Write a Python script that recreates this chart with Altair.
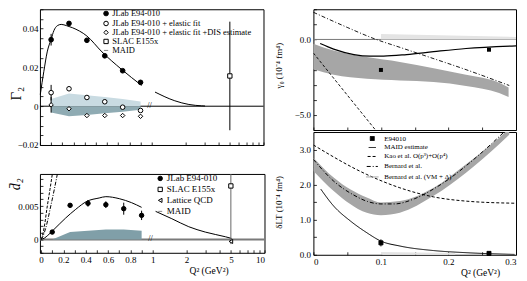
import json
import math
import altair as alt
import pandas as pd

FONT = "Liberation Serif"
UEXPR = "datum.q <= 1 ? datum.q : 1 + log(datum.q) / LN10"


def u(q):
    return q if q <= 1 else 1 + math.log10(q)


# ================= data : Gamma_2 (top left) =================
e94_q = [0.10, 0.26, 0.42, 0.58, 0.74, 0.90]
g2_meas = [0.0343, 0.0427, 0.0340, 0.0260, 0.0183, 0.0123]
g2_meas_err = [0.0030, 0.0008, 0.0008, 0.0008, 0.0008, 0.0008]
g2_el = [0.0070, 0.0090, 0.0045, 0.0023, -0.0005, -0.0022]
g2_el_err = [0.0040, 0.0, 0.0, 0.0, 0.0, 0.0]
g2_dis = [0.0007, -0.0013, -0.0048, -0.0048, -0.0048, -0.0052]
g2_dis_err = [0.0040, 0.0, 0.0, 0.0, 0.0, 0.0]
g2_slac_q = [5.0]
g2_slac = [0.0156]
g2_slac_err = [0.028]
g2_band_hi = [0.0037, 0.0065, 0.0057, 0.0048, 0.0037, 0.0024]
g2_band_lo = [-0.0032, -0.0052, -0.0045, -0.0036, -0.0028, -0.0018]
g2_maid_q = [0.003, 0.035, 0.065, 0.10, 0.125, 0.155, 0.19, 0.24, 0.29, 0.42, 0.555, 0.73, 0.91,
             1.07, 1.61, 2.15, 2.8, 3.0]
g2_maid = [0.0060, 0.0180, 0.0280, 0.0345, 0.0390, 0.0415, 0.0422, 0.0415, 0.0405, 0.0362, 0.0280,
           0.0190, 0.0107, 0.0073, 0.0028, 0.0009, 0.0002, 0.0001]

# ================= data : d2 (bottom left) =================
d2_meas = [0.0011, 0.0051, 0.0054, 0.0052, 0.0046, 0.0036]
d2_meas_err = [0.0003, 0.0003, 0.0005, 0.0005, 0.0009, 0.0007]
d2_slac_q = [5.0]
d2_slac = [0.0080]
d2_slac_err = [0.0087]
d2_lat_q = [5.0]
d2_lat = [-0.0003]
d2_band_hi = [0.0, 0.0011, 0.0013, 0.0015, 0.0015, 0.0013]
d2_maid_q = [0.0, 0.03, 0.06, 0.116, 0.22, 0.31, 0.41, 0.52, 0.58, 0.70, 0.81, 0.90,
             1.06, 1.48, 2.1, 2.95, 4.46, 5.07]
d2_maid = [0.0, 0.0002, 0.0006, 0.0015, 0.0032, 0.0045, 0.0057, 0.0062, 0.0064, 0.0061, 0.0055,
           0.0048, 0.0042, 0.0031, 0.0019, 0.0011, 0.0004, 0.00015]
d2_chpt_a_q = [0.0, 0.01, 0.027, 0.056, 0.08, 0.101]
d2_chpt_a = [0.0, 0.0004, 0.0017, 0.0050, 0.0075, 0.0098]
d2_chpt_b_q = [0.0, 0.015, 0.042, 0.087, 0.12, 0.146]
d2_chpt_b = [0.0, 0.0004, 0.0017, 0.0050, 0.0076, 0.0098]

# ================= data : gamma_0 (top right) =================
r_q = [0.10, 0.26]
g0_meas = [-2.02, -0.68]
g0_maid_q = [0.01, 0.03, 0.06, 0.084, 0.104, 0.138, 0.178, 0.226, 0.30]
g0_maid = [-0.27, -0.64, -1.00, -1.10, -1.10, -1.00, -0.81, -0.60, -0.42]
g0_kao_q = [0.0, 0.045, 0.092]
g0_kao = [-0.9, -3.4, -6.0]
g0_bern_q = [0.0, 0.05, 0.09, 0.13, 0.17, 0.226, 0.29]
g0_bern = [1.8, 0.8, 0.05, -0.55, -1.15, -2.0, -3.05]
g0_vm_q = [0.0, 0.03, 0.079, 0.128, 0.178, 0.226, 0.275, 0.289]
g0_vm_hi = [-0.28, -0.74, -1.17, -1.49, -1.91, -2.34, -2.87, -3.18]
g0_vm_lo = [-1.97, -2.34, -2.61, -2.72, -2.82, -3.08, -3.55, -3.82]
g0_sys_q = [0.10, 0.30]
g0_sys = [0.36, 0.17]

# ================= data : delta_LT (bottom right) =================
dlt_meas = [0.34, 0.04]
dlt_err = [0.10, 0.0]
dlt_maid_q = [0.011, 0.03, 0.055, 0.079, 0.10, 0.128, 0.178, 0.226, 0.298]
dlt_maid = [1.87, 1.39, 0.96, 0.63, 0.39, 0.25, 0.12, 0.06, 0.01]
dlt_kao_q = [0.0, 0.079, 0.128, 0.178, 0.226, 0.298]
dlt_kao = [3.13, 2.29, 1.91, 1.65, 1.53, 1.47]
dlt_bern_q = [0.0, 0.03, 0.06, 0.08, 0.10, 0.12, 0.15, 0.18, 0.20, 0.23, 0.26, 0.285]
dlt_bern = [2.72, 2.10, 1.70, 1.52, 1.45, 1.45, 1.60, 1.90, 2.15, 2.60, 3.10, 3.55]
dlt_vm_q = [0.0, 0.03, 0.079, 0.10, 0.128, 0.178, 0.226, 0.275, 0.29]
dlt_vm_hi = [2.77, 2.20, 1.63, 1.49, 1.53, 1.91, 2.58, 3.34, 3.60]
dlt_vm_lo = [2.39, 1.82, 1.20, 1.13, 1.20, 1.68, 2.34, 3.15, 3.42]
dlt_sys_q = [0.10, 0.21]
dlt_sys = [0.08, 0.05]

break_q = 0.98

# ================= legends =================
TL_SER = ["JLab E94-010", "JLab E94-010 + elastic fit",
          "JLab E94-010 + elastic fit +DIS estimate", "SLAC E155x", "MAID"]
BL_SER = ["JLab E94-010", "SLAC E155x", "Lattice QCD", "MAID"]
BR_SER = ["E94010", "MAID estimate", "Kao et al. O(p³)+O(p⁴)", "Bernard et al.",
          "Bernard et al. (VM + Δ)"]

# ================= styling =================
LIGHT = "#c9dbe2"
DARK = "#8fabb3"
TEAL = "#809fa8"
GREY_BAND = "#a6a6a6"
GREY_LIGHT = "#e4e4e4"

TLW, TLH = 224, 136
BLW, BLH = 225, 79
RW, TRH, BRH = 203, 121, 123


def ticks(start, step, n, nd):
    return [round(start + step * i, nd) for i in range(n)]


def lab_expr(vals, fmt, zero="0"):
    return (f"indexof({json.dumps(vals)}, datum.value) < 0 ? '' : "
            f"(datum.value == 0 ? '{zero}' : format(datum.value, '{fmt}'))")


# broken x axis (left panels)
xq_ticks = [0.0, 0.1, 0.2, 0.3, 0.4, 0.5, 0.6, 0.7, 0.8, 0.9, 1, 2, 3, 4, 5, 6, 7, 8, 9, 10]
xq_lab = {0.0: "0", 0.2: "0.2", 0.4: "0.4", 0.6: "0.6", 0.8: "0.8", 1: "1", 2: "2", 5: "5", 10: "10"}
xu_vals = [u(q) for q in xq_ticks]
xu_text = [xq_lab.get(q, "") for q in xq_ticks]
x_left_expr = f"{json.dumps(xu_text)}[indexof({json.dumps(xu_vals)}, datum.value)]"

AX = dict(tickSize=3, offset=-3, domain=False, grid=False, tickColor="black", tickWidth=0.8)

tl_xax = alt.Axis(values=xu_vals, labels=False, title="", **AX)
tl_xsc = alt.Scale(domain=[0.0, 2.0], nice=False, zero=False)
tl_yv = ticks(-0.02, 0.005, 15, 3)
tl_yax = alt.Axis(values=tl_yv, labelExpr=lab_expr([-0.02, 0.0, 0.02, 0.04], ".2f"),
                  labelPadding=2, title="Γ₂", titleFontSize=15, titleX=-27, titleY=84,
                  titleAlign="center", titleBaseline="middle", titleFontWeight="normal", **AX)
tl_ysc = alt.Scale(domain=[-0.02, 0.05], nice=False, zero=False)

bl_xax = alt.Axis(values=xu_vals, labelExpr=x_left_expr, labelPadding=3, title="Q² (GeV²)",
                  titleFontSize=9.5, titleX=169, titleY=16, titleAlign="center",
                  titleBaseline="top", titleFontWeight="normal", **AX)
bl_xsc = alt.Scale(domain=[-0.01, 2.0], nice=False, zero=False)
bl_yv = ticks(-0.002, 0.001, 12, 3)
bl_yax = alt.Axis(values=bl_yv, labelExpr=lab_expr([0.0, 0.005], ".3f"), labelPadding=2,
                  title="d\u0304₂", titleFontSize=14, titleFontStyle="italic", titleX=-27,
                  titleY=10, titleAlign="center", titleBaseline="middle",
                  titleFontWeight="normal", **AX)
bl_ysc = alt.Scale(domain=[-0.002, 0.0098], nice=False, zero=False)

r_xv = ticks(0.0, 0.05, 7, 2)
r_xsc = alt.Scale(domain=[0.0, 0.3], nice=False, zero=False)
tr_xax = alt.Axis(values=r_xv, labels=False, title="", **AX)
br_xax = alt.Axis(values=r_xv, labelExpr=lab_expr([0.0, 0.1, 0.2, 0.3], ".1f"), labelPadding=3,
                  title="Q² (GeV²)", titleFontSize=9.5, titleX=167, titleY=16,
                  titleAlign="center", titleBaseline="top", titleFontWeight="normal", **AX)
tr_yv = ticks(-6, 1, 9, 0)
tr_yax = alt.Axis(values=tr_yv, labelExpr=lab_expr([0, -5], ".1f", "0.0"), labelPadding=3,
                  title="γ₀ (10⁻⁴ fm⁴)", titleFontSize=9, titleX=-38, titleY=56,
                  titleAlign="center", titleBaseline="middle", titleFontWeight="normal", **AX)
tr_ysc = alt.Scale(domain=[-6, 2], nice=False, zero=False)
br_yv = ticks(0.0, 0.5, 8, 1)
br_yax = alt.Axis(values=br_yv, labelExpr=lab_expr([0.0, 1.0, 2.0, 3.0], ".1f", "0.0"),
                  labelPadding=3, title="δLT (10⁻⁴ fm⁴)", titleFontSize=9, titleX=-38,
                  titleY=70, titleAlign="center", titleBaseline="middle",
                  titleFontWeight="normal", **AX)
br_ysc = alt.Scale(domain=[0.0, 3.5], nice=False, zero=False)


def XE(field, sc, ax):
    return alt.X(f"{field}:Q", scale=sc, axis=ax)


def YE(field, sc, ax):
    return alt.Y(f"{field}:Q", scale=sc, axis=ax)


def series_enc(domain, shapes, fills, strokes, sizes, widths, legend, dashes=None):
    enc = dict(
        shape=alt.Shape("series:N", scale=alt.Scale(domain=domain, range=shapes), legend=legend),
        fill=alt.Fill("series:N", scale=alt.Scale(domain=domain, range=fills), legend=legend),
        stroke=alt.Stroke("series:N", scale=alt.Scale(domain=domain, range=strokes), legend=legend),
        size=alt.Size("series:N", scale=alt.Scale(domain=domain, range=sizes), legend=legend),
        strokeWidth=alt.StrokeWidth("series:N", scale=alt.Scale(domain=domain, range=widths),
                                    legend=legend),
    )
    if dashes is not None:
        enc["strokeDash"] = alt.StrokeDash("series:N", scale=alt.Scale(domain=domain, range=dashes),
                                           legend=legend)
    return enc


def points_df(groups):
    rows = []
    for name, qs, vs, es in groups:
        for q, v, e in zip(qs, vs, es):
            rows.append({"series": name, "q": q, "v": v, "err": e})
    return pd.DataFrame(rows)


def curve_df(qs, vs, name="c"):
    return pd.DataFrame({"q": qs, "v": vs, "seg": [0 if q <= 1 else 1 for q in qs], "series": name})


# ================= TOP LEFT =================
tl_pts = points_df([
    (TL_SER[0], e94_q, g2_meas, g2_meas_err),
    (TL_SER[1], e94_q, g2_el, g2_el_err),
    (TL_SER[2], e94_q, g2_dis, g2_dis_err),
    (TL_SER[3], g2_slac_q, g2_slac, g2_slac_err),
])
tl_leg = alt.Legend(title=None, orient="none", legendX=62, legendY=0, labelFont=FONT,
                    labelFontSize=8.5, rowPadding=0, labelOffset=2, padding=0)

tl_zero = alt.Chart(pd.DataFrame({"z": [0.0]})).mark_rule(color="black", strokeWidth=1).encode(
    y=YE("z", tl_ysc, tl_yax))
tl_band_up = alt.Chart(pd.DataFrame({"q": e94_q, "lo": [0.0] * 6, "hi": g2_band_hi})).mark_area(
    color=LIGHT, opacity=1).encode(x=XE("q", tl_xsc, tl_xax), y=YE("lo", tl_ysc, tl_yax),
                                   y2="hi:Q")
tl_band_dn = alt.Chart(pd.DataFrame({"q": e94_q, "lo": g2_band_lo, "hi": [0.0] * 6})).mark_area(
    color=DARK, opacity=1).encode(x=XE("q", tl_xsc, tl_xax), y=YE("lo", tl_ysc, tl_yax),
                                  y2="hi:Q")
tl_maid = alt.Chart(curve_df(g2_maid_q, g2_maid)).transform_calculate(u=UEXPR).mark_line(
    color="black", strokeWidth=1, interpolate="monotone").encode(
    x=XE("u", tl_xsc, tl_xax), y=YE("v", tl_ysc, tl_yax), detail="seg:N")
tl_err = alt.Chart(tl_pts[tl_pts.err > 0]).transform_calculate(
    u=UEXPR, lo="datum.v - datum.err", hi="datum.v + datum.err").mark_rule(
    color="black", strokeWidth=1).encode(x=XE("u", tl_xsc, tl_xax), y=YE("lo", tl_ysc, tl_yax),
                                         y2="hi:Q")
tl_p = alt.Chart(tl_pts).transform_calculate(u=UEXPR).mark_point(filled=True, opacity=1).encode(
    x=XE("u", tl_xsc, tl_xax), y=YE("v", tl_ysc, tl_yax),
    **series_enc(TL_SER, ["circle", "circle", "diamond", "square", "stroke"],
                 ["black", "white", "white", "white", "white"],
                 ["black", "black", "black", "black", "#888888"],
                 [22, 18, 20, 18, 90], [1, 1, 1, 1, 2], tl_leg))
tl_brk = alt.Chart(pd.DataFrame({"q": [break_q], "v": [0.0]})).mark_text(
    text="//", font=FONT, fontSize=8, color="black").encode(
    x=XE("q", tl_xsc, tl_xax), y=YE("v", tl_ysc, tl_yax))
tl = alt.layer(tl_zero, tl_band_up, tl_band_dn, tl_maid, tl_err, tl_p, tl_brk).properties(
    width=TLW, height=TLH)

# ================= BOTTOM LEFT =================
bl_pts = points_df([
    (BL_SER[0], e94_q, d2_meas, d2_meas_err),
    (BL_SER[1], d2_slac_q, d2_slac, d2_slac_err),
    (BL_SER[2], d2_lat_q, d2_lat, [0.0]),
])
bl_leg = alt.Legend(title=None, orient="none", legendX=116, legendY=0, labelFont=FONT,
                    labelFontSize=9, rowPadding=1, labelOffset=2, padding=0)
bl_zero = alt.Chart(pd.DataFrame({"z": [0.0]})).mark_rule(color="#7a7a7a", strokeWidth=2).encode(
    y=YE("z", bl_ysc, bl_yax))
bl_band = alt.Chart(pd.DataFrame({"q": e94_q, "lo": [0.0] * 6, "hi": d2_band_hi})).mark_area(
    color=TEAL, opacity=1).encode(x=XE("q", bl_xsc, bl_xax), y=YE("lo", bl_ysc, bl_yax),
                                  y2="hi:Q")
bl_chpt_a = alt.Chart(curve_df(d2_chpt_a_q, d2_chpt_a)).mark_line(
    color="black", strokeWidth=1, strokeDash=[3, 1.5], interpolate="monotone", clip=True).encode(
    x=XE("q", bl_xsc, bl_xax), y=YE("v", bl_ysc, bl_yax))
bl_chpt_b = alt.Chart(curve_df(d2_chpt_b_q, d2_chpt_b)).mark_line(
    color="black", strokeWidth=1, strokeDash=[4, 1.5, 1, 1.5], interpolate="monotone",
    clip=True).encode(x=XE("q", bl_xsc, bl_xax), y=YE("v", bl_ysc, bl_yax))
bl_maid = alt.Chart(curve_df(d2_maid_q, d2_maid)).transform_calculate(u=UEXPR).mark_line(
    color="black", strokeWidth=1, interpolate="monotone").encode(
    x=XE("u", bl_xsc, bl_xax), y=YE("v", bl_ysc, bl_yax), detail="seg:N")
bl_err = alt.Chart(bl_pts[bl_pts.err > 0]).transform_calculate(
    u=UEXPR, lo="datum.v - datum.err", hi="datum.v + datum.err").mark_rule(
    strokeWidth=1, clip=True).encode(
    x=XE("u", bl_xsc, bl_xax), y=YE("lo", bl_ysc, bl_yax), y2="hi:Q",
    color=alt.condition("datum.q > 1", alt.value("#666666"), alt.value("black")))
bl_p = alt.Chart(bl_pts).transform_calculate(u=UEXPR).mark_point(filled=True, opacity=1).encode(
    x=XE("u", bl_xsc, bl_xax), y=YE("v", bl_ysc, bl_yax),
    **series_enc(BL_SER, ["circle", "square", "triangle-left", "stroke"],
                 ["black", "white", "white", "white"],
                 ["black", "black", "black", "#888888"],
                 [20, 16, 20, 220], [1, 1, 1, 2.5], bl_leg))
bl_brk = alt.Chart(pd.DataFrame({"q": [break_q], "v": [0.0]})).mark_text(
    text="//", font=FONT, fontSize=8, color="black").encode(
    x=XE("q", bl_xsc, bl_xax), y=YE("v", bl_ysc, bl_yax))
bl = alt.layer(bl_zero, bl_band, bl_chpt_a, bl_chpt_b, bl_maid, bl_err, bl_p, bl_brk).properties(
    width=BLW, height=BLH)

# ================= TOP RIGHT =================
tr_zero = alt.Chart(pd.DataFrame({"z": [0.0]})).mark_rule(color="#777777", strokeWidth=1).encode(
    y=YE("z", tr_ysc, tr_yax))
tr_sys = alt.Chart(pd.DataFrame({"q": g0_sys_q, "lo": [0.0, 0.0], "hi": g0_sys})).mark_area(
    color=GREY_LIGHT, opacity=1).encode(x=XE("q", r_xsc, tr_xax), y=YE("lo", tr_ysc, tr_yax),
                                        y2="hi:Q")
tr_vm = alt.Chart(pd.DataFrame({"q": g0_vm_q, "lo": g0_vm_lo, "hi": g0_vm_hi})).mark_area(
    color=GREY_BAND, opacity=1, interpolate="monotone").encode(
    x=XE("q", r_xsc, tr_xax), y=YE("lo", tr_ysc, tr_yax), y2="hi:Q")
tr_maid = alt.Chart(curve_df(g0_maid_q, g0_maid)).mark_line(
    color="black", strokeWidth=1.2, interpolate="monotone").encode(
    x=XE("q", r_xsc, tr_xax), y=YE("v", tr_ysc, tr_yax))
tr_kao = alt.Chart(curve_df(g0_kao_q, g0_kao)).mark_line(
    color="black", strokeWidth=0.9, strokeDash=[3, 2], interpolate="monotone", clip=True).encode(
    x=XE("q", r_xsc, tr_xax), y=YE("v", tr_ysc, tr_yax))
tr_bern = alt.Chart(curve_df(g0_bern_q, g0_bern)).mark_line(
    color="black", strokeWidth=0.9, strokeDash=[4, 2, 1, 2], interpolate="monotone").encode(
    x=XE("q", r_xsc, tr_xax), y=YE("v", tr_ysc, tr_yax))
tr_p = alt.Chart(pd.DataFrame({"q": r_q, "v": g0_meas})).mark_point(
    shape="square", filled=True, color="black", size=16, opacity=1).encode(
    x=XE("q", r_xsc, tr_xax), y=YE("v", tr_ysc, tr_yax))
tr = alt.layer(tr_zero, tr_sys, tr_vm, tr_maid, tr_kao, tr_bern, tr_p).properties(
    width=RW, height=TRH)

# ================= BOTTOM RIGHT =================
br_leg = alt.Legend(title=None, orient="none", legendX=52, legendY=3, labelFont=FONT,
                    labelFontSize=7, rowPadding=0, labelOffset=5, padding=0)
br_sys = alt.Chart(pd.DataFrame({"q": dlt_sys_q, "lo": [0.0, 0.0], "hi": dlt_sys})).mark_area(
    color=GREY_LIGHT, opacity=1).encode(x=XE("q", r_xsc, br_xax), y=YE("lo", br_ysc, br_yax),
                                        y2="hi:Q")
br_vm = alt.Chart(pd.DataFrame({"q": dlt_vm_q, "lo": dlt_vm_lo, "hi": dlt_vm_hi})).mark_area(
    color=GREY_BAND, opacity=1, interpolate="monotone", clip=True).encode(
    x=XE("q", r_xsc, br_xax), y=YE("lo", br_ysc, br_yax), y2="hi:Q")
br_curves = pd.concat([
    curve_df(dlt_maid_q, dlt_maid, BR_SER[1]),
    curve_df(dlt_kao_q, dlt_kao, BR_SER[2]),
    curve_df(dlt_bern_q, dlt_bern, BR_SER[3]),
], ignore_index=True)
BR_DASH = [[1, 0], [1, 0], [3, 2], [4, 2, 1, 2], [1, 0]]
br_lines = alt.Chart(br_curves).mark_line(color="black", strokeWidth=1,
                                          interpolate="monotone", clip=True).encode(
    x=XE("q", r_xsc, br_xax), y=YE("v", br_ysc, br_yax),
    strokeDash=alt.StrokeDash("series:N", scale=alt.Scale(domain=BR_SER, range=BR_DASH),
                              legend=br_leg))
br_pts = points_df([(BR_SER[0], r_q, dlt_meas, dlt_err)])
br_err = alt.Chart(br_pts[br_pts.err > 0]).transform_calculate(
    lo="datum.v - datum.err", hi="datum.v + datum.err").mark_rule(
    color="black", strokeWidth=1).encode(x=XE("q", r_xsc, br_xax), y=YE("lo", br_ysc, br_yax),
                                         y2="hi:Q")
br_p = alt.Chart(br_pts).mark_point(filled=True, opacity=1).encode(
    x=XE("q", r_xsc, br_xax), y=YE("v", br_ysc, br_yax),
    **series_enc(BR_SER, ["square", "stroke", "stroke", "stroke", "stroke"],
                 ["black", "white", "white", "white", "white"],
                 ["black", "black", "black", "black", "#a6a6a6"],
                 [16, 160, 160, 160, 160], [1, 1, 1, 1, 4], br_leg, BR_DASH))
br = alt.layer(br_sys, br_vm, br_lines, br_err, br_p).properties(width=RW, height=BRH)

# ================= assemble =================
IND = dict(shape="independent", fill="independent", stroke="independent", size="independent",
           strokeWidth="independent", strokeDash="independent")


def indep(c):
    return c.resolve_scale(**IND).resolve_legend(**IND)


left = indep(alt.vconcat(tl, bl, spacing=22))
right = indep(alt.vconcat(tr, br, spacing=0))
chart = indep(alt.hconcat(left, right, spacing=7)).properties(
    padding={"left": 0, "top": 0, "right": 0, "bottom": 0}
).configure_view(stroke="black", strokeWidth=1).configure_axis(
    labelFont=FONT, titleFont=FONT, labelFontSize=9, labelColor="black", titleColor="black"
).configure_legend(labelColor="black")

chart.save("out.html", embed_options={"renderer": "svg", "actions": False})
